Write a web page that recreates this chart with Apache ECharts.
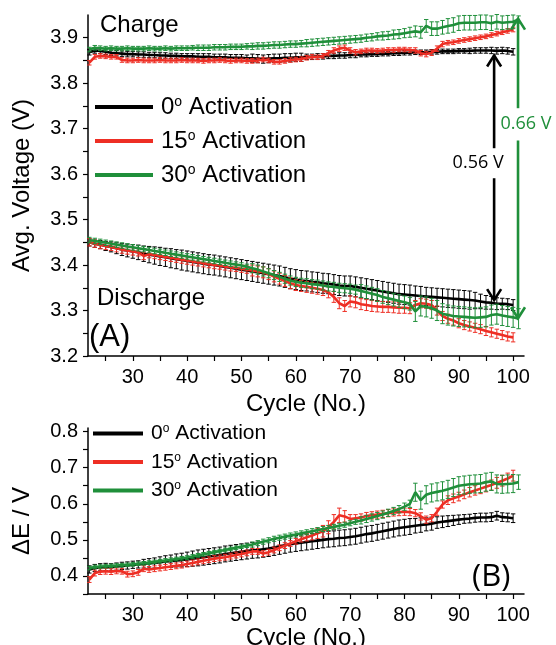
<!DOCTYPE html>
<html><head><meta charset="utf-8">
<script src="https://cdn.jsdelivr.net/npm/echarts@6/dist/echarts.min.js"></script>
<style>html,body{margin:0;padding:0;background:#fff}#c{width:556px;height:645px}</style>
</head><body><div id="c"></div>
<script>
// ---------- DATA ----------
const cycles = [
 22,23,24,25,26,27,28,29,30,31,
 32,33,34,35,36,37,38,39,40,41,
 42,43,44,45,46,47,48,49,50,51,
 52,53,54,55,56,57,58,59,60,61,
 62,63,64,65,66,67,68,69,70,71,
 72,73,74,75,76,77,78,79,80,81,
 82,83,84,85,86,87,88,89,90,91,
 92,93,94,95,96,97,98,99,100,101];
const seriesNames = ['0° Activation','15° Activation','30° Activation'];

// Panel A: charge voltages (V)
const charge0 = [
 3.868,3.872,3.871,3.869,3.867,3.866,3.865,3.864,3.864,3.863,
 3.863,3.862,3.862,3.861,3.861,3.860,3.860,3.859,3.859,3.859,
 3.858,3.858,3.858,3.857,3.857,3.857,3.856,3.856,3.856,3.855,
 3.855,3.854,3.853,3.854,3.855,3.855,3.856,3.856,3.857,3.857,
 3.858,3.858,3.859,3.859,3.860,3.860,3.861,3.861,3.862,3.862,
 3.863,3.863,3.864,3.864,3.865,3.865,3.866,3.866,3.867,3.867,
 3.868,3.868,3.868,3.869,3.869,3.870,3.870,3.870,3.871,3.871,
 3.871,3.872,3.872,3.872,3.872,3.871,3.872,3.871,3.869,null];
const charge0Err = [
 .006,.006,.006,.006,.006,.006,.006,.006,.006,.006,
 .006,.006,.006,.006,.006,.006,.006,.006,.006,.006,
 .007,.007,.007,.007,.007,.007,.007,.007,.007,.007,
 .009,.009,.009,.009,.009,.009,.009,.009,.009,.009,
 .006,.006,.006,.006,.006,.006,.006,.006,.006,.006,
 .005,.005,.005,.005,.005,.005,.005,.005,.005,.005,
 .005,.005,.005,.005,.005,.005,.005,.005,.005,.005,
 .006,.006,.006,.006,.007,.007,.007,.007,.007,null];
const charge15 = [
 3.845,3.858,3.860,3.859,3.858,3.858,3.851,3.850,3.850,3.851,
 3.850,3.850,3.850,3.851,3.850,3.850,3.850,3.851,3.850,3.850,
 3.850,3.849,3.850,3.850,3.851,3.850,3.849,3.850,3.850,3.849,
 3.849,3.850,3.852,3.850,3.847,3.847,3.849,3.851,3.852,3.853,
 3.856,3.858,3.857,3.860,3.866,3.872,3.876,3.878,3.872,3.868,
 3.870,3.872,3.872,3.871,3.872,3.873,3.873,3.874,3.874,3.873,
 3.872,3.866,3.864,3.867,3.876,3.886,3.889,3.890,3.893,3.895,
 3.897,3.899,3.901,3.903,3.906,3.909,3.912,3.915,3.918,null];
const charge15Err = [
 .005,.005,.005,.005,.005,.005,.005,.005,.005,.005,
 .005,.005,.005,.005,.005,.005,.005,.005,.005,.005,
 .005,.005,.005,.005,.005,.005,.005,.005,.005,.005,
 .005,.005,.005,.005,.005,.005,.005,.005,.005,.005,
 .005,.005,.005,.005,.006,.006,.006,.006,.006,.006,
 .005,.005,.005,.005,.005,.005,.005,.005,.005,.005,
 .006,.006,.006,.006,.006,.006,.005,.005,.005,.005,
 .005,.005,.005,.005,.005,.005,.005,.005,.005,null];
const charge30 = [
 3.874,3.878,3.877,3.876,3.877,3.876,3.876,3.877,3.876,3.876,
 3.876,3.877,3.876,3.876,3.877,3.876,3.877,3.877,3.877,3.878,
 3.878,3.878,3.878,3.879,3.879,3.879,3.880,3.880,3.880,3.881,
 3.881,3.882,3.882,3.883,3.884,3.884,3.885,3.886,3.886,3.887,
 3.888,3.889,3.890,3.891,3.892,3.893,3.894,3.895,3.896,3.897,
 3.898,3.900,3.901,3.903,3.904,3.905,3.907,3.908,3.910,3.912,
 3.914,3.912,3.926,3.920,3.920,3.923,3.926,3.928,3.932,3.933,
 3.933,3.933,3.934,3.934,3.932,3.935,3.933,3.934,3.935,3.940];
const charge30Err = [
 .005,.005,.005,.005,.005,.005,.005,.005,.005,.005,
 .005,.005,.005,.005,.005,.005,.005,.005,.005,.005,
 .006,.006,.006,.006,.006,.006,.006,.006,.006,.006,
 .007,.007,.007,.007,.007,.007,.007,.007,.007,.007,
 .008,.008,.008,.008,.008,.008,.008,.008,.008,.008,
 .008,.008,.008,.008,.009,.009,.010,.010,.010,.011,
 .012,.013,.014,.015,.015,.015,.016,.016,.016,.016,
 .016,.016,.016,.016,.016,.016,.015,.015,.015,.008];

// Panel A: discharge voltages (V)
const discharge0 = [
 3.450,3.447,3.445,3.442,3.440,3.437,3.434,3.432,3.430,3.428,
 3.425,3.423,3.421,3.419,3.417,3.415,3.413,3.411,3.409,3.407,
 3.405,3.403,3.401,3.400,3.398,3.396,3.394,3.392,3.390,3.388,
 3.386,3.384,3.382,3.380,3.378,3.376,3.373,3.370,3.368,3.366,
 3.365,3.363,3.362,3.360,3.359,3.357,3.355,3.354,3.354,3.352,
 3.350,3.348,3.346,3.344,3.342,3.340,3.338,3.336,3.335,3.334,
 3.333,3.332,3.331,3.330,3.329,3.328,3.327,3.326,3.325,3.324,
 3.323,3.322,3.320,3.318,3.317,3.315,3.315,3.314,3.312,null];
const discharge0Err = [
 .008,.008,.009,.010,.011,.012,.013,.014,.015,.016,
 .017,.018,.019,.020,.020,.021,.021,.022,.022,.022,
 .022,.022,.022,.022,.022,.022,.022,.022,.022,.022,
 .022,.022,.022,.022,.022,.022,.022,.022,.022,.022,
 .022,.022,.022,.022,.022,.022,.022,.022,.022,.022,
 .022,.022,.022,.022,.022,.022,.022,.022,.022,.022,
 .021,.021,.020,.020,.020,.020,.020,.020,.020,.020,
 .020,.018,.016,.015,.014,.013,.012,.012,.012,null];
const discharge15 = [
 3.450,3.447,3.444,3.442,3.440,3.437,3.434,3.432,3.430,3.428,
 3.420,3.424,3.422,3.420,3.418,3.416,3.414,3.412,3.410,3.408,
 3.406,3.404,3.402,3.400,3.399,3.397,3.395,3.394,3.392,3.390,
 3.388,3.386,3.384,3.380,3.375,3.370,3.365,3.360,3.356,3.354,
 3.352,3.350,3.348,3.345,3.340,3.330,3.316,3.310,3.320,3.318,
 3.314,3.312,3.310,3.309,3.308,3.308,3.307,3.306,3.306,3.305,
 3.312,3.316,3.315,3.312,3.300,3.288,3.282,3.278,3.272,3.268,
 3.265,3.262,3.259,3.255,3.252,3.249,3.246,3.243,3.241,null];
const discharge15Err = [
 .008,.008,.008,.008,.008,.008,.008,.008,.008,.008,
 .008,.008,.008,.008,.008,.008,.008,.008,.008,.008,
 .008,.008,.008,.008,.008,.008,.008,.008,.008,.008,
 .012,.012,.012,.012,.012,.012,.012,.012,.012,.012,
 .012,.012,.012,.012,.012,.012,.012,.012,.012,.012,
 .012,.012,.012,.012,.012,.012,.012,.012,.012,.012,
 .010,.010,.010,.010,.010,.010,.010,.010,.010,.010,
 .010,.010,.010,.010,.010,.010,.010,.010,.010,null];
const discharge30 = [
 3.455,3.453,3.451,3.449,3.447,3.445,3.443,3.441,3.439,3.437,
 3.435,3.433,3.431,3.429,3.427,3.425,3.423,3.421,3.419,3.417,
 3.415,3.413,3.411,3.409,3.407,3.405,3.403,3.401,3.399,3.396,
 3.393,3.390,3.386,3.382,3.378,3.374,3.370,3.366,3.363,3.361,
 3.360,3.358,3.357,3.355,3.353,3.352,3.350,3.349,3.348,3.346,
 3.343,3.340,3.337,3.334,3.330,3.327,3.324,3.321,3.318,3.315,
 3.298,3.310,3.308,3.305,3.300,3.293,3.290,3.288,3.287,3.286,
 3.285,3.284,3.285,3.286,3.290,3.292,3.289,3.287,3.285,3.282];
const discharge30Err = [
 .006,.006,.006,.006,.006,.006,.006,.006,.006,.006,
 .006,.006,.006,.006,.006,.006,.006,.006,.006,.006,
 .006,.006,.006,.006,.006,.006,.006,.006,.006,.006,
 .010,.010,.010,.010,.010,.010,.010,.010,.010,.010,
 .010,.010,.010,.010,.010,.010,.010,.010,.010,.010,
 .014,.014,.014,.014,.014,.014,.014,.014,.014,.014,
 .022,.022,.022,.022,.022,.022,.022,.022,.022,.022,
 .022,.022,.022,.022,.022,.022,.022,.022,.022,.022];

// Panel B: voltage hysteresis dE (V)
const dE0 = [
 0.418,0.422,0.424,0.425,0.424,0.426,0.428,0.429,0.431,0.432,
 0.434,0.435,0.436,0.438,0.440,0.441,0.443,0.444,0.446,0.448,
 0.450,0.452,0.454,0.456,0.458,0.461,0.463,0.465,0.467,0.469,
 0.471,0.472,0.474,0.476,0.479,0.482,0.485,0.488,0.490,0.492,
 0.494,0.496,0.498,0.500,0.502,0.503,0.505,0.506,0.508,0.510,
 0.513,0.516,0.518,0.521,0.524,0.527,0.530,0.533,0.535,0.537,
 0.539,0.541,0.543,0.545,0.548,0.550,0.552,0.554,0.556,0.558,
 0.559,0.561,0.562,0.562,0.563,0.567,0.563,0.562,0.560,null];
const dE0Err = [
 .010,.010,.010,.010,.010,.010,.010,.010,.010,.010,
 .012,.013,.014,.015,.016,.017,.018,.019,.020,.021,
 .022,.022,.022,.022,.022,.022,.022,.022,.022,.022,
 .022,.022,.022,.022,.022,.022,.022,.022,.022,.022,
 .022,.022,.022,.022,.022,.022,.022,.022,.022,.022,
 .022,.022,.022,.022,.022,.022,.022,.022,.022,.022,
 .020,.020,.018,.018,.016,.016,.015,.014,.013,.012,
 .012,.012,.012,.012,.012,.012,.012,.012,.012,null];
const dE15 = [
 0.390,0.408,0.412,0.413,0.412,0.414,0.413,0.405,0.406,0.410,
 0.420,0.418,0.420,0.422,0.424,0.426,0.428,0.430,0.433,0.436,
 0.439,0.442,0.445,0.448,0.450,0.452,0.455,0.458,0.461,0.464,
 0.468,0.468,0.462,0.466,0.472,0.478,0.484,0.490,0.496,0.502,
 0.507,0.512,0.518,0.524,0.535,0.550,0.568,0.565,0.558,0.560,
 0.562,0.566,0.568,0.570,0.572,0.574,0.576,0.577,0.578,0.577,
 0.574,0.565,0.556,0.560,0.578,0.598,0.610,0.615,0.620,0.626,
 0.632,0.637,0.642,0.647,0.652,0.658,0.664,0.670,0.678,null];
const dE15Err = [
 .008,.008,.008,.008,.008,.008,.008,.008,.008,.008,
 .008,.008,.008,.008,.008,.008,.008,.008,.008,.008,
 .008,.008,.008,.008,.008,.008,.008,.008,.008,.008,
 .008,.008,.008,.008,.008,.008,.008,.008,.008,.008,
 .010,.012,.014,.016,.018,.020,.020,.016,.012,.010,
 .010,.010,.010,.010,.010,.010,.010,.010,.010,.010,
 .010,.010,.010,.010,.010,.010,.012,.012,.012,.012,
 .013,.013,.014,.014,.014,.015,.015,.015,.015,null];
const dE30 = [
 0.422,0.425,0.426,0.427,0.428,0.429,0.430,0.431,0.432,0.434,
 0.435,0.437,0.439,0.441,0.443,0.445,0.447,0.449,0.451,0.454,
 0.457,0.460,0.463,0.466,0.469,0.472,0.475,0.478,0.481,0.484,
 0.487,0.491,0.495,0.499,0.503,0.506,0.509,0.512,0.515,0.518,
 0.521,0.524,0.527,0.530,0.533,0.536,0.539,0.542,0.546,0.550,
 0.554,0.558,0.562,0.566,0.570,0.575,0.580,0.585,0.592,0.600,
 0.632,0.610,0.625,0.630,0.633,0.636,0.640,0.645,0.650,0.652,
 0.654,0.655,0.656,0.660,0.662,0.655,0.654,0.655,0.656,0.660];
const dE30Err = [
 .005,.005,.005,.005,.005,.005,.005,.005,.005,.005,
 .005,.005,.005,.005,.005,.005,.005,.005,.005,.005,
 .005,.005,.005,.005,.005,.005,.005,.005,.005,.005,
 .007,.007,.007,.007,.007,.007,.007,.007,.007,.007,
 .007,.007,.007,.007,.007,.007,.007,.007,.007,.007,
 .010,.010,.010,.010,.010,.010,.010,.010,.010,.010,
 .025,.025,.025,.025,.025,.025,.025,.025,.025,.025,
 .025,.025,.025,.025,.025,.025,.025,.025,.025,.020];

// Axis ticks / labels
const xTickValues = [25,30,35,40,45,50,55,60,65,70,75,80,85,90,95,100];
const xLabelValues = [30,40,50,60,70,80,90,100];
const yTopTickValues = [3.2,3.25,3.3,3.35,3.4,3.45,3.5,3.55,3.6,3.65,3.7,3.75,3.8,3.85,3.9];
const yTopLabelValues = [3.2,3.3,3.4,3.5,3.6,3.7,3.8,3.9];
const yBotTickValues = [0.35,0.4,0.45,0.5,0.55,0.6,0.65,0.7,0.75,0.8];
const yBotLabelValues = [0.4,0.5,0.6,0.7,0.8];

// Annotation arrows: cycle, top V, bottom V, label
const arrowCycle = [96.5, 100.9];
const arrowTop = [3.861, 3.942];
const arrowBottom = [3.323, 3.283];
const arrowGapHigh = [3.657, 3.745];
const arrowGapLow = [3.591, 3.674];
const arrowLabels = ['0.56 V', '0.66 V'];

// ---------- CHART ----------
const FONT = 'Liberation Sans';
const COLORS = ['#000000', '#ee2e24', '#1f8f3a'];

function zip(xs, ys){ return xs.map((x,i)=>[x, ys[i]]); }
function errData(xs, ys, es){
  return xs.map((x,i)=> (ys[i]==null) ? [x, null, null] : [x, ys[i]-es[i], ys[i]+es[i]]);
}
function makeErrRender(color){
  return function(params, api){
    const lo = api.value(1), hi = api.value(2);
    if (lo == null || isNaN(lo)) return null;
    const x = api.value(0);
    const a = api.coord([x, hi]), b = api.coord([x, lo]);
    const hw = 2.2;
    const st = {stroke: color, lineWidth: 1};
    return {type:'group', children:[
      {type:'line', shape:{x1:a[0],y1:a[1],x2:b[0],y2:b[1]}, style:st},
      {type:'line', shape:{x1:a[0]-hw,y1:a[1],x2:a[0]+hw,y2:a[1]}, style:st},
      {type:'line', shape:{x1:b[0]-hw,y1:b[1],x2:b[0]+hw,y2:b[1]}, style:st}
    ]};
  };
}

const series = [];
function addCurve(gridIdx, nameIdx, ys, es){
  const color = COLORS[nameIdx];
  series.push({
    type:'custom', name:'err'+gridIdx+'_'+nameIdx+'_'+series.length, xAxisIndex:gridIdx, yAxisIndex:gridIdx,
    data: errData(cycles, ys, es), encode:{x:0, y:[1,2]},
    renderItem: makeErrRender(color), silent:true, z: 2 + nameIdx*2
  });
  series.push({
    type:'line', name: seriesNames[nameIdx], xAxisIndex:gridIdx, yAxisIndex:gridIdx,
    data: zip(cycles, ys), symbol:'none', showSymbol:false,
    lineStyle:{color:color, width:2.6}, itemStyle:{color:color}, z: 3 + nameIdx*2, silent:true
  });
}
addCurve(0,0,charge0,charge0Err);
addCurve(0,0,discharge0,discharge0Err);
addCurve(0,1,charge15,charge15Err);
addCurve(0,1,discharge15,discharge15Err);
addCurve(0,2,charge30,charge30Err);
addCurve(0,2,discharge30,discharge30Err);
addCurve(1,0,dE0,dE0Err);
addCurve(1,1,dE15,dE15Err);
addCurve(1,2,dE30,dE30Err);

const ARROW_COLORS = ['#000000', '#1f8f3a'];
const LABEL_DX = [-16, 8];
series.push({
  type:'custom', name:'arrows', xAxisIndex:0, yAxisIndex:0, silent:true, z:20, clip:false,
  data: arrowCycle.map((c,i)=>[c, arrowTop[i], arrowBottom[i], arrowGapHigh[i], arrowGapLow[i]]),
  encode:{x:0, y:[1,2]},
  renderItem: function(params, api){
    const i = params.dataIndex, x = api.value(0);
    const pT = api.coord([x, api.value(1)]), pB = api.coord([x, api.value(2)]);
    const pH = api.coord([x, api.value(3)]), pL = api.coord([x, api.value(4)]);
    const color = ARROW_COLORS[i], w = 7, h = 11;
    const st = {stroke:color, lineWidth:2.6, fill:null};
    return {type:'group', children:[
      {type:'line', shape:{x1:pT[0],y1:pT[1],x2:pH[0],y2:pH[1]}, style:st},
      {type:'line', shape:{x1:pL[0],y1:pL[1],x2:pB[0],y2:pB[1]}, style:st},
      {type:'polyline', shape:{points:[[pT[0]-w,pT[1]+h],[pT[0],pT[1]],[pT[0]+w,pT[1]+h]]}, style:st},
      {type:'polyline', shape:{points:[[pB[0]-w,pB[1]-h],[pB[0],pB[1]],[pB[0]+w,pB[1]-h]]}, style:st},
      {type:'text', x:pT[0]+LABEL_DX[i], y:(pH[1]+pL[1])/2,
       style:{text:arrowLabels[i], fill:color, fontSize:18, fontFamily:'Open Sans', align:'center', verticalAlign:'middle'}}
    ]};
  }
});

function xAxis(gi, nameGap, margin){
  return {type:'value', gridIndex:gi, min:21.75, max:102,
    name:'Cycle (No.)', nameLocation:'middle', nameGap:nameGap,
    nameTextStyle:{fontSize:24, color:'#000', fontFamily:FONT},
    axisLine:{show:true, onZero:false, lineStyle:{color:'#000', width:1.5}},
    axisTick:{show:true, inside:false, length:5, customValues:xTickValues, lineStyle:{color:'#000', width:1.2}},
    axisLabel:{customValues:xLabelValues, fontSize:20, color:'#000', margin:margin, fontFamily:FONT},
    splitLine:{show:false}};
}
function yAxis(gi, min, max, ticks, labels, name, nameGap, namePad){
  return {type:'value', gridIndex:gi, min:min, max:max,
    name:name, nameLocation:'middle', nameGap:nameGap, nameRotate:90,
    nameTextStyle:{fontSize:24, color:'#000', fontFamily:FONT, padding:namePad},
    axisLine:{show:true, onZero:false, lineStyle:{color:'#000', width:1.5}},
    axisTick:{show:true, inside:false, length:5, customValues:ticks, lineStyle:{color:'#000', width:1.2}},
    axisLabel:{customValues:labels, fontSize:20, color:'#000', margin:10, fontFamily:FONT,
      formatter: v => Number(v).toFixed(1)},
    splitLine:{show:false}};
}
function legend(left, top, w, gap, fs){
  return {left:left, top:top, orient:'vertical', itemWidth:w, itemHeight:4, itemGap:gap,
    icon:'rect', padding:0,
    data: seriesNames, selectedMode:false,
    formatter: n => n.replace('°', '{s|o}'),
    textStyle:{fontSize:fs, fontFamily:FONT, color:'#000', padding:[0,0,0,3],
      rich:{s:{fontSize:Math.round(fs*0.58), fontFamily:FONT, color:'#000', verticalAlign:'top'}}}};
}

const chart = echarts.init(document.getElementById('c'));
chart.setOption({
  animation:false,
  backgroundColor:'#fff',
  grid:[{left:88, top:15, width:436, height:341, outerBoundsMode:'none', containLabel:false},
        {left:88, top:428, width:436, height:166, outerBoundsMode:'none', containLabel:false}],
  xAxis:[xAxis(0, 32, 11), xAxis(1, 28, 11)],
  yAxis:[yAxis(0, 3.2, 3.95, yTopTickValues, yTopLabelValues, 'Avg. Voltage (V)', 54, [0,0,0,0]),
         yAxis(1, 0.35, 0.81, yBotTickValues, yBotLabelValues, 'ΔE / V', 54, [0,20,0,0])],
  legend:[legend(95, 95, 58, 10, 24), legend(93, 423, 50, 7.5, 21)],
  graphic:[
    {type:'text', x:100, y:25, style:{text:'Charge', fontSize:24, fontFamily:FONT, fill:'#000', verticalAlign:'middle'}},
    {type:'text', x:97, y:298, style:{text:'Discharge', fontSize:24, fontFamily:FONT, fill:'#000', verticalAlign:'middle'}},
    {type:'text', x:89, y:337, style:{text:'(A)', fontSize:31, fontFamily:FONT, fill:'#000', verticalAlign:'middle'}},
    {type:'text', x:472, y:577, style:{text:'(B)', fontSize:31, fontFamily:'Open Sans', fill:'#000', verticalAlign:'middle'}}
  ],
  series: series
});
</script></body></html>
